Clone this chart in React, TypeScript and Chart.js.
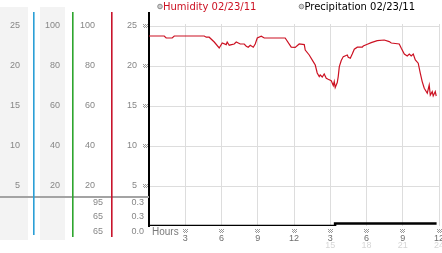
import React, { useEffect, useRef } from "react";
import { Chart, registerables } from "chart.js";

Chart.register(...registerables);

// ---- data ----
const hours = [
  0, 1.26, 1.42, 1.92, 2.09, 4.57, 4.74, 4.98, 5.4, 5.81, 6.06, 6.39, 6.47, 6.64, 7.05, 7.22, 7.55, 7.88,
  8.05, 8.21, 8.38, 8.63, 8.79, 8.96, 9.29, 9.54, 11.27, 11.77, 12.1, 12.43, 12.85, 12.93, 13.26, 13.59,
  13.76, 13.92, 14.09, 14.17, 14.34, 14.5, 14.67, 14.83, 15.08, 15.17, 15.25, 15.33, 15.41, 15.58, 15.66,
  15.75, 15.91, 16.08, 16.41, 16.49, 16.66, 16.82, 16.99, 17.24, 17.65, 17.73, 18.07, 18.39, 18.89, 19.47,
  19.88, 20.05, 20.71, 20.88, 21.13, 21.37, 21.54, 21.7, 21.87, 22.04, 22.28, 22.45, 22.61, 22.78, 23.03,
  23.19, 23.28, 23.44, 23.52, 23.69, 23.77,
];
const humidity = [
  95, 95, 94, 94, 95, 95, 94.4, 94.4, 92, 89, 91.5, 90.7, 92, 90.4, 91, 92, 91, 91,
  89.9, 89.4, 90.4, 89.4, 91, 94, 94.9, 94, 94, 89.4, 89.3, 91, 90.7, 88, 85.5, 82.2,
  80.5, 76.5, 74.7, 75.5, 74.5, 76, 73.9, 73.4, 72.7, 71.4, 70.2, 72.2, 69.2, 71.7, 74.7,
  79.7, 82.7, 84.7, 85.5, 84.4, 83.9, 86, 88.4, 89.4, 89.4, 90, 90.9, 91.7, 92.7, 93,
  92.2, 91.5, 91, 88.9, 86, 85, 86, 85, 86, 83, 81.4, 76.4, 72.2, 68.9, 66.4,
  70.5, 65.5, 67.2, 65, 67.2, 65,
];
const precipHours = [0, 15.4, 23.8];
const precipitation = [0.0, 0.3, 0.3];

const hourTicks = [3, 6, 9, 12, 15, 18, 21, 24];
const hourLabels = ["3", "6", "9", "12", "3", "6", "9", "12"];
const hourTicks2 = [15, 18, 21, 24];
const hourLabels2 = ["15", "18", "21", "24"];
const pctTicks = [20, 40, 60, 80, 100];
const inchTicks = [5, 10, 15, 20, 25];
const humidityStats = ["95", "65", "65"];
const precipStats = ["0.3", "0.3", "0.0"];
const seriesLabels = ["Humidity 02/23/11", "Precipitation 02/23/11"];
const hoursTitle = "Hours";

// ---- styles ----
const tickFont = { family: "'Liberation Sans', Arial, sans-serif", size: 9 };
const tickGrey = "#868686";
const PCT_MAX = 106.5;
const IN_MAX = 26.625;

function leftAxis(weight: number, width: number, max: number, ticksArr: number[], padding: number, main: boolean) {
  return {
    type: "linear",
    position: "left",
    weight,
    min: 0,
    max,
    afterBuildTicks: (s: any) => {
      s.ticks = ticksArr.map((v) => ({ value: v }));
    },
    afterFit: (s: any) => {
      s.width = width;
      s.paddingTop = 0;
      s.paddingBottom = 0;
    },
    ticks: { font: tickFont, color: tickGrey, padding, autoSkip: false, callback: (v: any) => String(v) },
    grid: { display: main, color: "#dddddd", drawTicks: false, lineWidth: 1 },
    border: { display: main, color: "#000000", width: 2 },
  };
}

function drawMark(ctx: CanvasRenderingContext2D, cx: number, cy: number) {
  ctx.fillStyle = "#9a9a9a";
  const x0 = Math.round(cx - 2.5);
  const y0 = Math.round(cy - 2);
  for (let i = 0; i < 5; i++)
    for (let j = 0; j < 4; j++) if ((i + j) % 2 === 0) ctx.fillRect(x0 + i, y0 + j, 1, 1);
}

const decorPlugin = {
  id: "decor",
  beforeDraw(chart: any) {
    const { ctx, chartArea, scales } = chart;
    ctx.save();
    ctx.fillStyle = "#ffffff";
    ctx.fillRect(0, 0, chart.width, chart.height);
    ctx.fillStyle = "#f3f3f3";
    const a = scales.yA, b = scales.yB;
    ctx.fillRect(a.left, chartArea.top - 6, a.right - 5 - a.left, chartArea.bottom + 14 - (chartArea.top - 6));
    ctx.fillRect(b.left + 7, chartArea.top - 6, b.right - 7 - (b.left + 7), chartArea.bottom + 14 - (chartArea.top - 6));
    ctx.restore();
  },
  beforeDatasetsDraw(chart: any) {
    const { ctx, chartArea, scales } = chart;
    const top25 = scales.yP.getPixelForValue(25);
    ctx.save();
    ctx.fillStyle = "#ffffff";
    ctx.fillRect(chartArea.left + 1, chartArea.top, chartArea.right - chartArea.left, top25 - 2 - chartArea.top);
    ctx.restore();
  },
  afterDraw(chart: any) {
    const { ctx, chartArea, scales } = chart;
    const { yA, yB, yH, yP, x } = scales;
    ctx.save();
    // horizontal grey separator
    ctx.fillStyle = "#a3a3a3";
    ctx.fillRect(0, chartArea.bottom - 30, chartArea.left, 2);
    // column separator lines
    const cols: [any, string, number][] = [
      [yA, "#2b9fd6", chartArea.bottom + 9],
      [yB, "#2ea52e", chartArea.bottom + 11],
      [yH, "#c8142c", chartArea.bottom + 11],
    ];
    for (const [s, c, bot] of cols) {
      ctx.fillStyle = c;
      ctx.fillRect(Math.round(s.right), chartArea.top - 1, 1.6, bot - (chartArea.top - 1));
    }
    // stats
    ctx.font = "9px 'Liberation Sans', Arial, sans-serif";
    ctx.fillStyle = tickGrey;
    ctx.textAlign = "right";
    ctx.textBaseline = "middle";
    const rows = [-23.5, -9, 5.5];
    rows.forEach((dy, i) => {
      ctx.fillText(humidityStats[i], yH.right - 8, chartArea.bottom + dy);
      ctx.fillText(precipStats[i], yP.right - 5, chartArea.bottom + dy);
    });
    // tick marks
    inchTicks.forEach((v) => drawMark(ctx, yP.right - 3.5, yP.getPixelForValue(v)));
    hourTicks.forEach((v) => drawMark(ctx, x.getPixelForValue(v), chartArea.bottom + 5));
    // Hours title
    ctx.font = "10px 'Liberation Sans', Arial, sans-serif";
    ctx.fillStyle = "#7a7a7a";
    ctx.textAlign = "left";
    ctx.fillText(hoursTitle, chartArea.left + 3, chartArea.bottom + 6.5);
    // legend
    ctx.font = "10px 'DejaVu Sans', sans-serif";
    ctx.textBaseline = "alphabetic";
    let lx = chartArea.left + 11;
    chart.data.datasets.forEach((ds: any) => {
      ctx.beginPath();
      ctx.arc(lx, 6.5, 2.3, 0, Math.PI * 2);
      ctx.fillStyle = "#cfcfcf";
      ctx.fill();
      ctx.strokeStyle = "#8c8c8c";
      ctx.lineWidth = 1;
      ctx.stroke();
      ctx.fillStyle = ds.legendColor;
      ctx.fillText(ds.label, lx + 3, 10);
      lx += 3 + ctx.measureText(ds.label).width + 45;
    });
    ctx.restore();
  },
};

export default function App() {
  const ref = useRef<HTMLCanvasElement | null>(null);
  useEffect(() => {
    if (!ref.current) return;
    const chart = new Chart(ref.current, {
      type: "line",
      data: {
        datasets: [
          {
            label: seriesLabels[0],
            data: hours.map((h, i) => ({ x: h, y: humidity[i] })),
            yAxisID: "yH",
            xAxisID: "x",
            borderColor: "#cc1122",
            borderWidth: 1.2,
            pointRadius: 0,
            tension: 0,
            legendColor: "#cc1122",
          } as any,
          {
            label: seriesLabels[1],
            data: precipHours.map((h, i) => ({ x: h, y: precipitation[i] })),
            yAxisID: "yP",
            xAxisID: "x",
            borderColor: "#000000",
            borderWidth: 2.5,
            pointRadius: 0,
            stepped: true,
            legendColor: "#000000",
          } as any,
        ],
      },
      options: {
        responsive: false,
        animation: false,
        events: [],
        layout: { padding: { top: 13, right: 3, left: 0, bottom: 0 } },
        plugins: { legend: { display: false }, tooltip: { enabled: false } },
        scales: {
          x: {
            type: "linear",
            position: "bottom",
            weight: 0,
            min: 0,
            max: 24,
            afterBuildTicks: (s: any) => {
              s.ticks = hourTicks.map((v) => ({ value: v }));
            },
            afterFit: (s: any) => {
              s.height = 15;
              s.paddingLeft = 0;
              s.paddingRight = 0;
            },
            ticks: {
              font: tickFont,
              color: "#6e6e6e",
              padding: 6.75,
              maxRotation: 0,
              autoSkip: false,
              callback: (_v: any, i: number) => hourLabels[i],
            },
            grid: { color: "#dddddd", drawTicks: false },
            border: { display: false },
          },
          x2: {
            type: "linear",
            position: "bottom",
            weight: 1,
            min: 0,
            max: 24,
            afterBuildTicks: (s: any) => {
              s.ticks = hourTicks2.map((v) => ({ value: v }));
            },
            afterFit: (s: any) => {
              s.height = 12;
              s.paddingLeft = 0;
              s.paddingRight = 0;
            },
            ticks: {
              font: tickFont,
              color: "#d6d6d6",
              padding: -1.25,
              maxRotation: 0,
              autoSkip: false,
              callback: (_v: any, i: number) => hourLabels2[i],
            },
            grid: { display: false, drawTicks: false },
            border: { display: false },
          },
          yA: leftAxis(4, 33, IN_MAX, inchTicks, 13, false),
          yB: leftAxis(3, 39, PCT_MAX, pctTicks, 12, false),
          yH: leftAxis(2, 39, PCT_MAX, pctTicks, 16, false),
          yP: leftAxis(1, 38, IN_MAX, inchTicks, 12, true),
        } as any,
      },
      plugins: [decorPlugin],
    } as any);
    return () => chart.destroy();
  }, []);
  return (
    <div style={{ position: "fixed", left: 0, top: 0, width: 442, height: 253, background: "#fff" }}>
      <canvas ref={ref} width={442} height={253} style={{ display: "block", width: 442, height: 253 }} />
    </div>
  );
}
